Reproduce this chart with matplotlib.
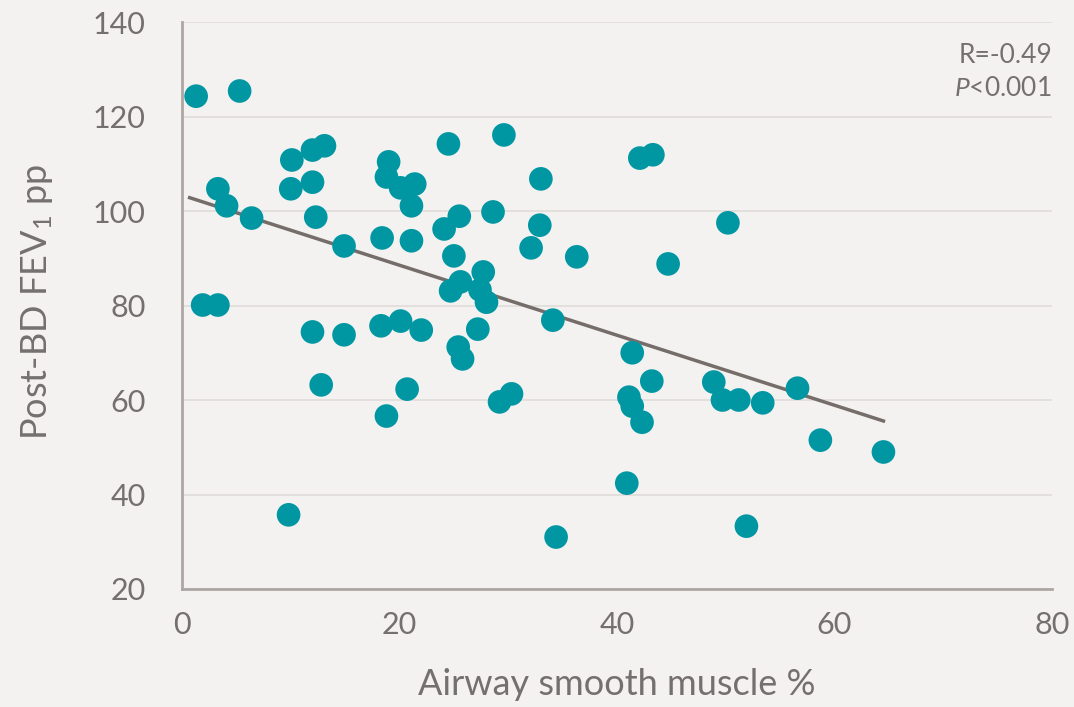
import numpy as np
import matplotlib
matplotlib.use("Agg")
import matplotlib.pyplot as plt

plt.rcParams.update({"font.family": ["Lato", "DejaVu Sans"],
                     "mathtext.fontset": "custom",
                     "mathtext.rm": "Lato",
                     "mathtext.it": "Lato:italic"})

# airway smooth muscle % vs post-BD FEV1 pp
asm = [1.3, 5.3, 1.9, 3.3, 3.3, 4.1, 6.4, 10.1, 10.0, 12.0, 13.1, 12.0, 12.3, 14.9,
       12.0, 14.9, 12.8, 9.8, 19.0, 18.8, 20.1, 21.4, 21.1, 18.4, 21.1, 18.3, 20.1,
       22.0, 20.7, 18.8, 24.5, 24.1, 25.5, 25.0, 25.6, 24.7, 27.7, 27.4, 28.0, 25.4,
       25.8, 27.2, 29.6, 28.6, 33.0, 32.9, 32.1, 36.3, 34.1, 29.2, 30.3, 34.4, 42.1,
       43.3, 44.7, 50.2, 41.4, 43.2, 41.1, 41.4, 42.3, 40.9, 48.9, 49.7, 51.2, 53.4,
       56.6, 51.9, 58.7, 64.5]
fev1 = [124.3, 125.4, 80.1, 80.1, 104.7, 101.1, 98.5, 110.8, 104.7, 112.9, 113.8, 106.1,
        98.7, 92.6, 74.4, 73.8, 63.2, 35.7, 110.4, 107.2, 104.9, 105.7, 101.1, 94.3,
        93.7, 75.7, 76.7, 74.8, 62.3, 56.6, 114.2, 96.2, 98.9, 90.5, 85.0, 83.1, 87.1,
        83.3, 80.7, 71.2, 68.7, 75.0, 116.1, 99.8, 106.8, 97.0, 92.2, 90.3, 76.9, 59.6,
        61.3, 31.0, 111.2, 111.9, 88.8, 97.5, 70.0, 64.0, 60.6, 58.7, 55.3, 42.4, 63.8,
        60.0, 60.0, 59.4, 62.5, 33.3, 51.5, 49.0]

bg = "#f4f2f0"
txt = "#757070"
teal = "#0097a3"

fig = plt.figure(figsize=(10.74, 7.07), dpi=100, facecolor=bg)
ax = fig.add_axes([182/1074, 1-589/707, (1052-182)/1074, (589-22)/707])
ax.set_facecolor(bg)

ax.scatter(asm, fev1, s=290, color=teal, edgecolors="none", zorder=3)

# linear trend
slope, icpt = np.polyfit(asm, fev1, 1)
xs = np.array([min(asm) - 0.6, max(asm)])
ax.plot(xs, slope*xs + icpt, color="#756d6a", lw=2.5, zorder=2)

ax.set_xlim(0, 80)
ax.set_ylim(20, 140)
ax.set_xticks([0, 20, 40, 60, 80])
ax.set_yticks([20, 40, 60, 80, 100, 120, 140])
ax.grid(axis="y", color="#e0dcd9", lw=1.2, zorder=0)
ax.tick_params(length=0, labelsize=22, colors=txt)
ax.tick_params(axis="y", pad=26)
ax.tick_params(axis="x", pad=16)
for s in ["top", "right"]:
    ax.spines[s].set_visible(False)
for s in ["left", "bottom"]:
    ax.spines[s].set_color("#aea6a2")
    ax.spines[s].set_linewidth(2)

ax.set_xlabel("Airway smooth muscle %", fontsize=26, color=txt)
ax.set_ylabel("Post-BD FEV$_1$ pp", fontsize=26, color=txt)
ax.xaxis.set_label_coords(0.5, -0.14)
ax.yaxis.set_label_coords(-0.146, 0.506)

ax.text(1.0, 0.928, "R=-0.49", transform=ax.transAxes, ha="right", va="baseline",
        fontsize=19, color=txt)
ax.text(1.0, 0.87, "$\\mathit{P}$<0.001", transform=ax.transAxes, ha="right", va="baseline",
        fontsize=19, color=txt)

fig.savefig("out.png", dpi=100, facecolor=bg)
